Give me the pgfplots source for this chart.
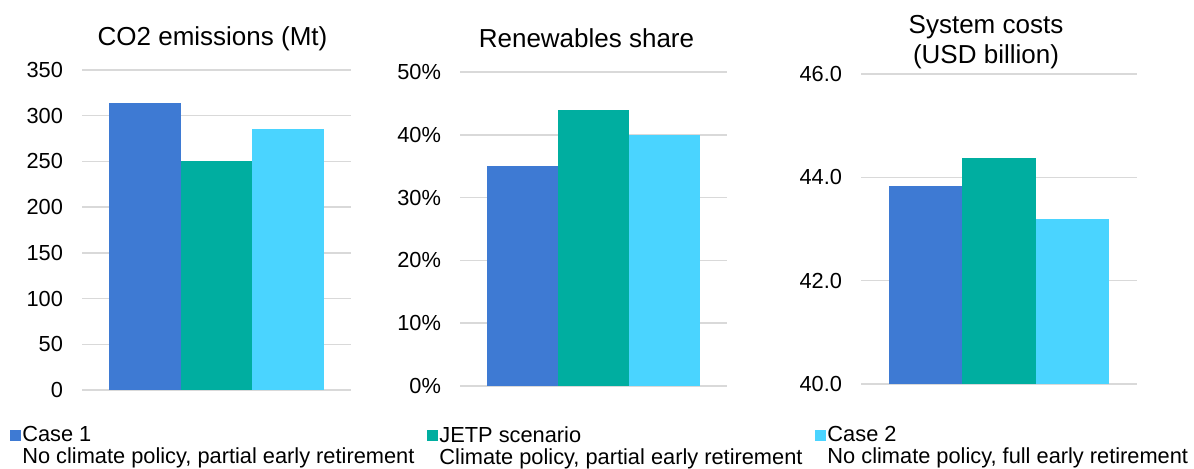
\documentclass[border=0pt]{standalone}
\usepackage{fontspec}
\setmainfont{Liberation Sans}
\usepackage{pgfplots}
\pgfplotsset{compat=1.18}
\definecolor{cone}{HTML}{3E7AD3}
\definecolor{jetp}{HTML}{00AEA0}
\definecolor{ctwo}{HTML}{4AD4FF}
\definecolor{gridc}{HTML}{D9D9D9}
\pgfplotsset{
  panel/.style={
    scale only axis,
    anchor=south west,
    xmin=-0.88, xmax=2.88,
    xtick=\empty,
    ymajorgrids,
    grid style={gridc, line width=0.75pt},
    axis line style={draw=none},
    major tick length=0pt,
    tick style={draw=none},
    ybar, bar width=1,
    tick label style={font=\fontsize{10.9}{13}\selectfont, text=black},
    /pgf/number format/assume math mode=true,
    yticklabel style={xshift=-6pt},
    title style={font=\fontsize{13}{15}\selectfont, align=center, inner sep=0pt},
  },
  sqlegend/.style={legend image code/.code={\fill[##1] (0pt,2.75pt) rectangle (5.5pt,8.25pt);}},
}
\begin{document}
\begin{tikzpicture}
\path[use as bounding box] (0,0) rectangle (597pt,234pt);
% Panel 1
\begin{axis}[panel,
  at={(41pt,39pt)}, width=134.5pt, height=160pt,
  ymin=0, ymax=350, ytick={0,50,...,350},
  title={CO2 emissions (Mt)},
  title style={at={(0.5,1)}, anchor=base, yshift=6.5pt, xshift=-2pt},
  legend style={at={(-0.268,-0.1)}, anchor=north west, draw=none, fill=none,
    legend columns=3, font=\fontsize{10.9}{11}\selectfont, inner sep=0pt,
    cells={anchor=west, align=left, inner xsep=0pt, inner ysep=0pt},
    /tikz/every odd column/.append style={column sep=-1.5pt},
    /tikz/every even column/.append style={column sep=4.5pt}},
]
\addplot[fill=cone, draw=none, bar shift=0, sqlegend] coordinates {(0,314)};
\addlegendentry{Case 1\\No climate policy, partial early retirement}
\addplot[fill=jetp, draw=none, bar shift=0, sqlegend] coordinates {(1,250)};
\addlegendentry{JETP scenario\\Climate policy, partial early retirement}
\addplot[fill=ctwo, draw=none, bar shift=0, sqlegend] coordinates {(2,285)};
\addlegendentry{Case 2\\No climate policy, full early retirement}
\end{axis}
% Panel 2
\begin{axis}[panel,
  at={(230pt,41pt)}, width=133.5pt, height=157pt,
  ymin=0, ymax=50, ytick={0,10,...,50},
  yticklabel={\pgfmathprintnumber{\tick}\%},
  title={Renewables share},
  title style={at={(0.5,1)}, anchor=base, yshift=6.5pt, xshift=-3.5pt},
]
\addplot[fill=cone, draw=none, bar shift=0] coordinates {(0,35)};
\addplot[fill=jetp, draw=none, bar shift=0] coordinates {(1,44)};
\addplot[fill=ctwo, draw=none, bar shift=0] coordinates {(2,40)};
\end{axis}
% Panel 3
\begin{axis}[panel,
  at={(430.5pt,42pt)}, width=138pt, height=155pt,
  ymin=40, ymax=46, ytick={40,42,44,46},
  yticklabel style={/pgf/number format/.cd, fixed, fixed zerofill, precision=1},
  title={System costs\\(USD billion)},
  title style={at={(0.5,1)}, anchor=south, yshift=-3.7pt, xshift=-6.5pt},
]
\addplot[fill=cone, draw=none, bar shift=0] coordinates {(0,43.83)};
\addplot[fill=jetp, draw=none, bar shift=0] coordinates {(1,44.37)};
\addplot[fill=ctwo, draw=none, bar shift=0] coordinates {(2,43.19)};
\end{axis}
\end{tikzpicture}
\end{document}
